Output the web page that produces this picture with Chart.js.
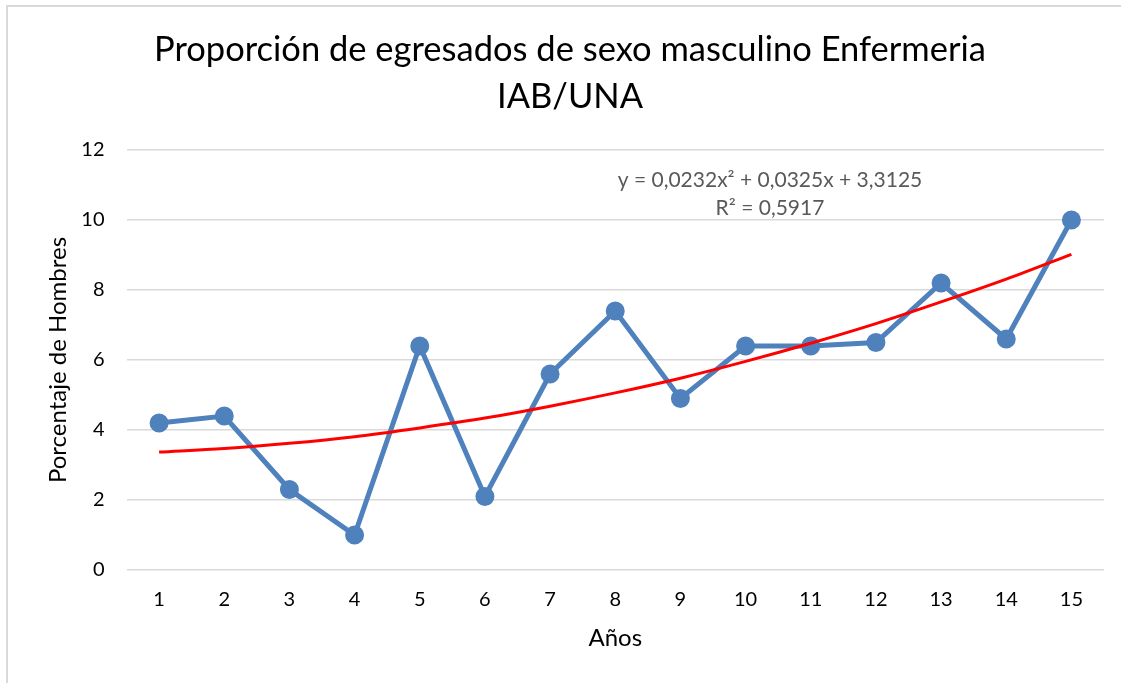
<!DOCTYPE html>
<html>
<head>
<meta charset="utf-8">
<script src="https://cdn.jsdelivr.net/npm/chart.js@4/dist/chart.umd.min.js"></script>
<style>
  html, body { margin: 0; padding: 0; background: #fff; }
  #wrap { position: relative; width: 1121px; height: 683px; overflow: hidden; }
  #frame { position: absolute; left: 6px; top: 5px; width: 1200px; height: 800px;
           border-top: 2px solid #d9d9d9; border-left: 2px solid #d9d9d9; box-sizing: border-box; pointer-events: none; }
  canvas { position: absolute; left: 0; top: 0; }
</style>
</head>
<body>
<div id="wrap">
  <canvas id="c" width="1121" height="683"></canvas>
  <div id="frame"></div>
</div>
<script>
// ---- data ----
const years = ['1','2','3','4','5','6','7','8','9','10','11','12','13','14','15'];
const percentMen = [4.2, 4.4, 2.3, 1.0, 6.4, 2.1, 5.6, 7.4, 4.9, 6.4, 6.4, 6.5, 8.2, 6.6, 10.0];
// polynomial trend line values as read at each year
const trendValues = [3.37, 3.47, 3.62, 3.81, 4.06, 4.34, 4.68, 5.06, 5.48, 5.96, 6.48, 7.04, 7.66, 8.31, 9.02];
const titleLines = ['Proporción de egresados de sexo masculino Enfermeria', 'IAB/UNA'];
const equationLines = ['y = 0,0232x² + 0,0325x + 3,3125', 'R² = 0,5917'];
const yTicks = [0, 2, 4, 6, 8, 10, 12];

const FONT = "Lato, 'Open Sans', sans-serif";

const textPlugin = {
  id: 'texts',
  afterDraw(chart) {
    const ctx = chart.ctx;
    ctx.save();
    ctx.textAlign = 'center';
    ctx.textBaseline = 'middle';
    ctx.fillStyle = '#000000';
    ctx.font = "34.5px " + FONT;
    ctx.fillText(titleLines[0], 570, 50);
    ctx.fillText(titleLines[1], 570, 97);
    ctx.fillStyle = '#595959';
    ctx.font = "21px " + FONT;
    ctx.fillText(equationLines[0], 770, 180);
    ctx.fillText(equationLines[1], 770, 208);
    ctx.restore();
  }
};

new Chart(document.getElementById('c'), {
  type: 'line',
  data: {
    labels: years,
    datasets: [
      {
        label: 'Porcentaje',
        data: percentMen,
        borderColor: '#4F81BD',
        backgroundColor: '#4F81BD',
        borderWidth: 5,
        pointRadius: 7,
        pointHoverRadius: 7,
        pointBackgroundColor: '#4F81BD',
        pointBorderColor: '#4F81BD',
        tension: 0,
        order: 2
      },
      {
        label: 'Tendencia',
        data: trendValues,
        borderColor: '#FF0000',
        borderWidth: 3,
        pointRadius: 0,
        cubicInterpolationMode: 'monotone',
        fill: false,
        order: 1
      }
    ]
  },
  options: {
    responsive: false,
    animation: false,
    layout: { padding: { left: 0, right: 17, top: 150, bottom: 0 } },
    plugins: {
      legend: { display: false },
      title: { display: false },
      tooltip: { enabled: false }
    },
    scales: {
      x: {
        offset: true,
        grid: { display: false, drawTicks: false },
        border: { display: false },
        ticks: { color: '#000000', font: { family: FONT, size: 20 }, padding: 18, maxRotation: 0 },
        title: { display: true, text: 'Años', color: '#000000', font: { family: FONT, size: 24 }, padding: { top: 0, bottom: 30.5 } },
        afterFit(scale) { scale.height = 113; }
      },
      y: {
        min: 0, max: 12,
        afterBuildTicks(scale) { scale.ticks = yTicks.map(v => ({ value: v })); },
        grid: { color: '#d9d9d9', lineWidth: 1.5, drawTicks: false },
        border: { display: false },
        ticks: { color: '#000000', font: { family: FONT, size: 20 }, padding: 22 },
        title: { display: true, text: 'Porcentaje de Hombres', color: '#000000', font: { family: FONT, size: 24 }, padding: { top: 43.5, bottom: 0 } },
        afterFit(scale) { scale.width = 126.5; }
      }
    }
  },
  plugins: [textPlugin]
});
</script>
</body>
</html>
